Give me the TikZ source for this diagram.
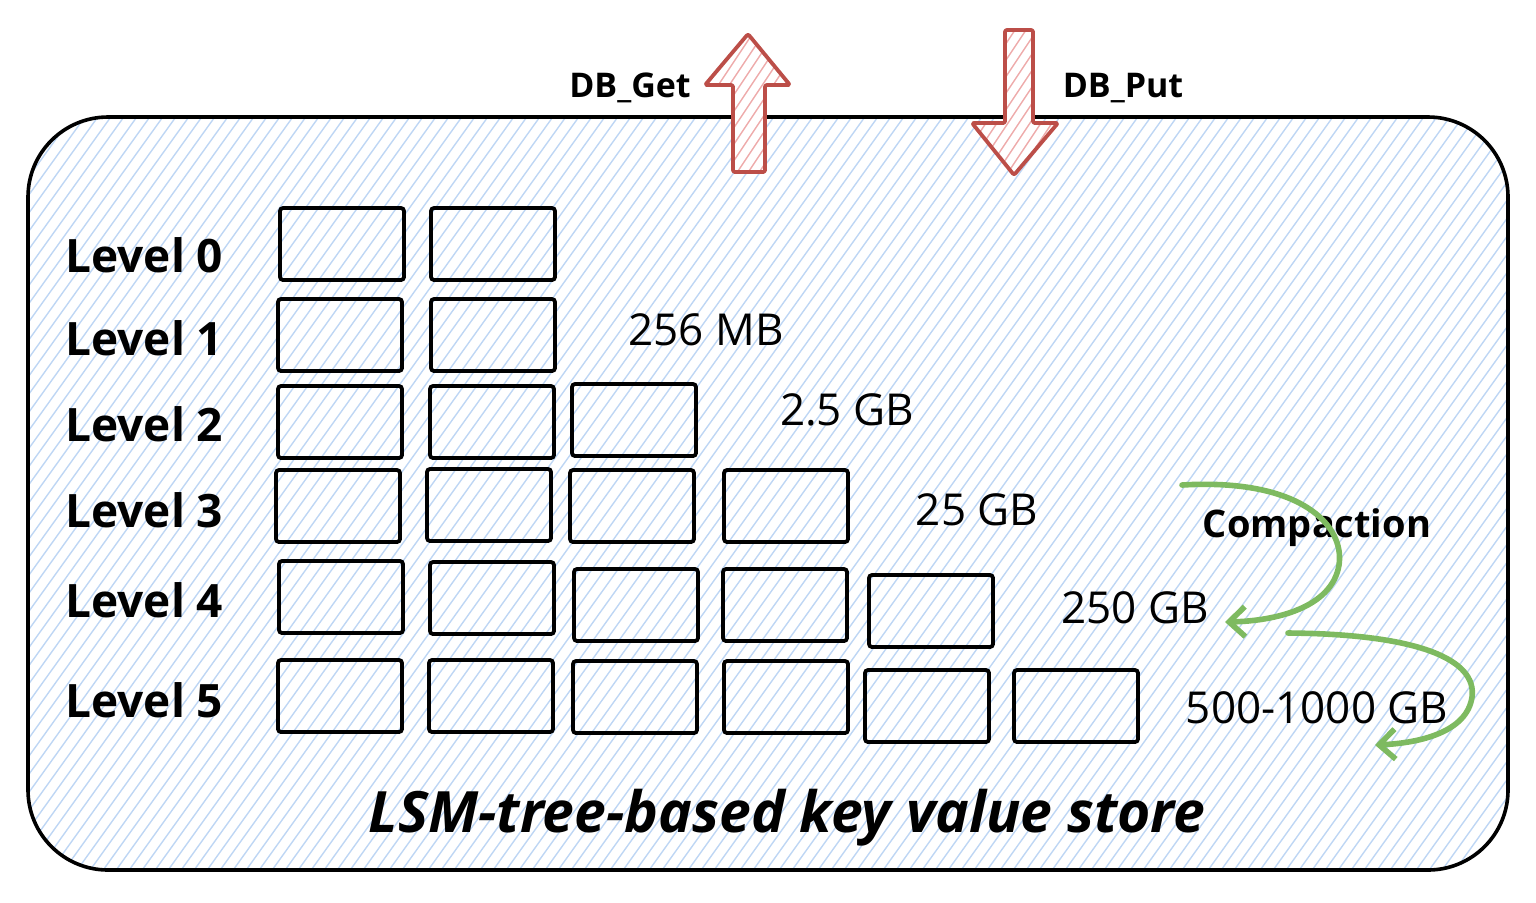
\documentclass[tikz,border=0pt]{standalone}
\usepackage{fontspec}
\setmainfont{Open Sans}
\usetikzlibrary{arrows.meta}
\definecolor{hatchc}{RGB}{190,214,244}
\definecolor{redarr}{RGB}{188,78,72}
\definecolor{pinkh}{RGB}{238,170,170}
\definecolor{grn}{RGB}{126,186,96}
\begin{document}
\begin{tikzpicture}[x=0.5pt,y=-0.5pt]
\useasboundingbox (0,0) rectangle (1536,902);
\tikzset{
  lvl/.style={font=\bfseries\fontsize{23}{27}\selectfont, anchor=west, inner sep=0pt},
  sizelbl/.style={font=\fontsize{22}{26}\selectfont, inner sep=0pt},
  oplbl/.style={font=\bfseries\fontsize{17}{20}\selectfont, inner sep=0pt},
  sst/.style={draw=black, line width=1.9pt, rounded corners=1.5pt, minimum width=62pt, minimum height=36pt, inner sep=0pt},
  bigarrow/.style={draw=redarr, line width=1.9pt, line join=round, rounded corners=1pt},
  comp/.style={draw=grn, line width=2.8pt, line cap=round, -{Straight Barb[length=8pt,width=15pt,line width=2.8pt]}}
}
% container hatch
\begin{scope}
  \clip[rounded corners=40pt] (28,117) rectangle (1508,870);
  \foreach \i in {-580,-567,...,1520}
    \draw[hatchc, line width=0.7pt] (\i,880) -- ++(560,-780);
\end{scope}
\draw[line width=1.8pt, rounded corners=40pt] (28,117) rectangle (1508,870);

% DB arrows
\def\uparr{(748,34) -- (790,85) -- (765,85) -- (765,172) -- (733,172) -- (733,85) -- (705,85) -- cycle}
\def\dnarr{(1005,30) -- (1033,30) -- (1033,123) -- (1058,123) -- (1014,175) -- (972,123) -- (1005,123) -- cycle}
\fill[white] \uparr;
\fill[white] \dnarr;
\begin{scope}
  \clip \uparr;
  \foreach \i in {600,611,...,800}
    \draw[pinkh, line width=0.7pt] (\i,180) -- ++(100,-150);
\end{scope}
\begin{scope}
  \clip \dnarr;
  \foreach \i in {860,871,...,1060}
    \draw[pinkh, line width=0.7pt] (\i,180) -- ++(100,-150);
\end{scope}
\draw[bigarrow] \uparr;
\draw[bigarrow] \dnarr;
\node[oplbl] (get) at (630,88) {DB\_Get};
\node[oplbl] (put) at (1123,88) {DB\_Put};

% level labels
\node[lvl] (l0) at (65,255) {Level 0};
\node[lvl] (l1) at (65,338) {Level 1};
\node[lvl] (l2) at (65,424) {Level 2};
\node[lvl] (l3) at (65,510) {Level 3};
\node[lvl] (l4) at (65,600) {Level 4};
\node[lvl] (l5) at (65,700) {Level 5};

% SSTables
\node[sst] (b00) at (342,244) {};
\node[sst] (b01) at (493,244) {};
\node[sst] (b10) at (340,335) {};
\node[sst] (b11) at (493,335) {};
\node[sst] (b20) at (340,422) {};
\node[sst] (b21) at (492,422) {};
\node[sst] (b22) at (634,420) {};
\node[sst] (b30) at (338,506) {};
\node[sst] (b31) at (489,505) {};
\node[sst] (b32) at (632,506) {};
\node[sst] (b33) at (786,506) {};
\node[sst] (b40) at (341,597) {};
\node[sst] (b41) at (492,598) {};
\node[sst] (b42) at (636,605) {};
\node[sst] (b43) at (785,605) {};
\node[sst] (b44) at (931,611) {};
\node[sst] (b50) at (340,696) {};
\node[sst] (b51) at (491,696) {};
\node[sst] (b52) at (635,697) {};
\node[sst] (b53) at (786,697) {};
\node[sst] (b54) at (927,706) {};
\node[sst] (b55) at (1076,706) {};

% sizes
\node[sizelbl] (s1) at (706,330) {256 MB};
\node[sizelbl] (s2) at (847,410) {2.5 GB};
\node[sizelbl] (s3) at (977,510) {25 GB};
\node[sizelbl] (s4) at (1135,608) {250 GB};
\node[sizelbl] (s5) at (1317,708) {500-1000 GB};

% compaction
\node[font=\bfseries\fontsize{19}{22}\selectfont, inner sep=0pt] (comp) at (1317,528) {Compaction};
\coordinate (c1s) at (1182,485);
\coordinate (c1e) at (1225,622);
\coordinate (c2s) at (1288,633);
\coordinate (c2e) at (1375,745);
\draw[comp] (c1s) .. controls (1300,478) and (1345,525) .. (1339,565) .. controls (1332,608) and (1275,621) .. (c1e);
\draw[comp] (c2s) .. controls (1420,634) and (1477,660) .. (1472,697) .. controls (1467,732) and (1420,743) .. (c2e);

% title
\node[font=\bfseries\itshape\fontsize{28.5}{32}\selectfont, inner sep=0pt] (title) at (787,818) {LSM-tree-based key value store};
\end{tikzpicture}
\end{document}
